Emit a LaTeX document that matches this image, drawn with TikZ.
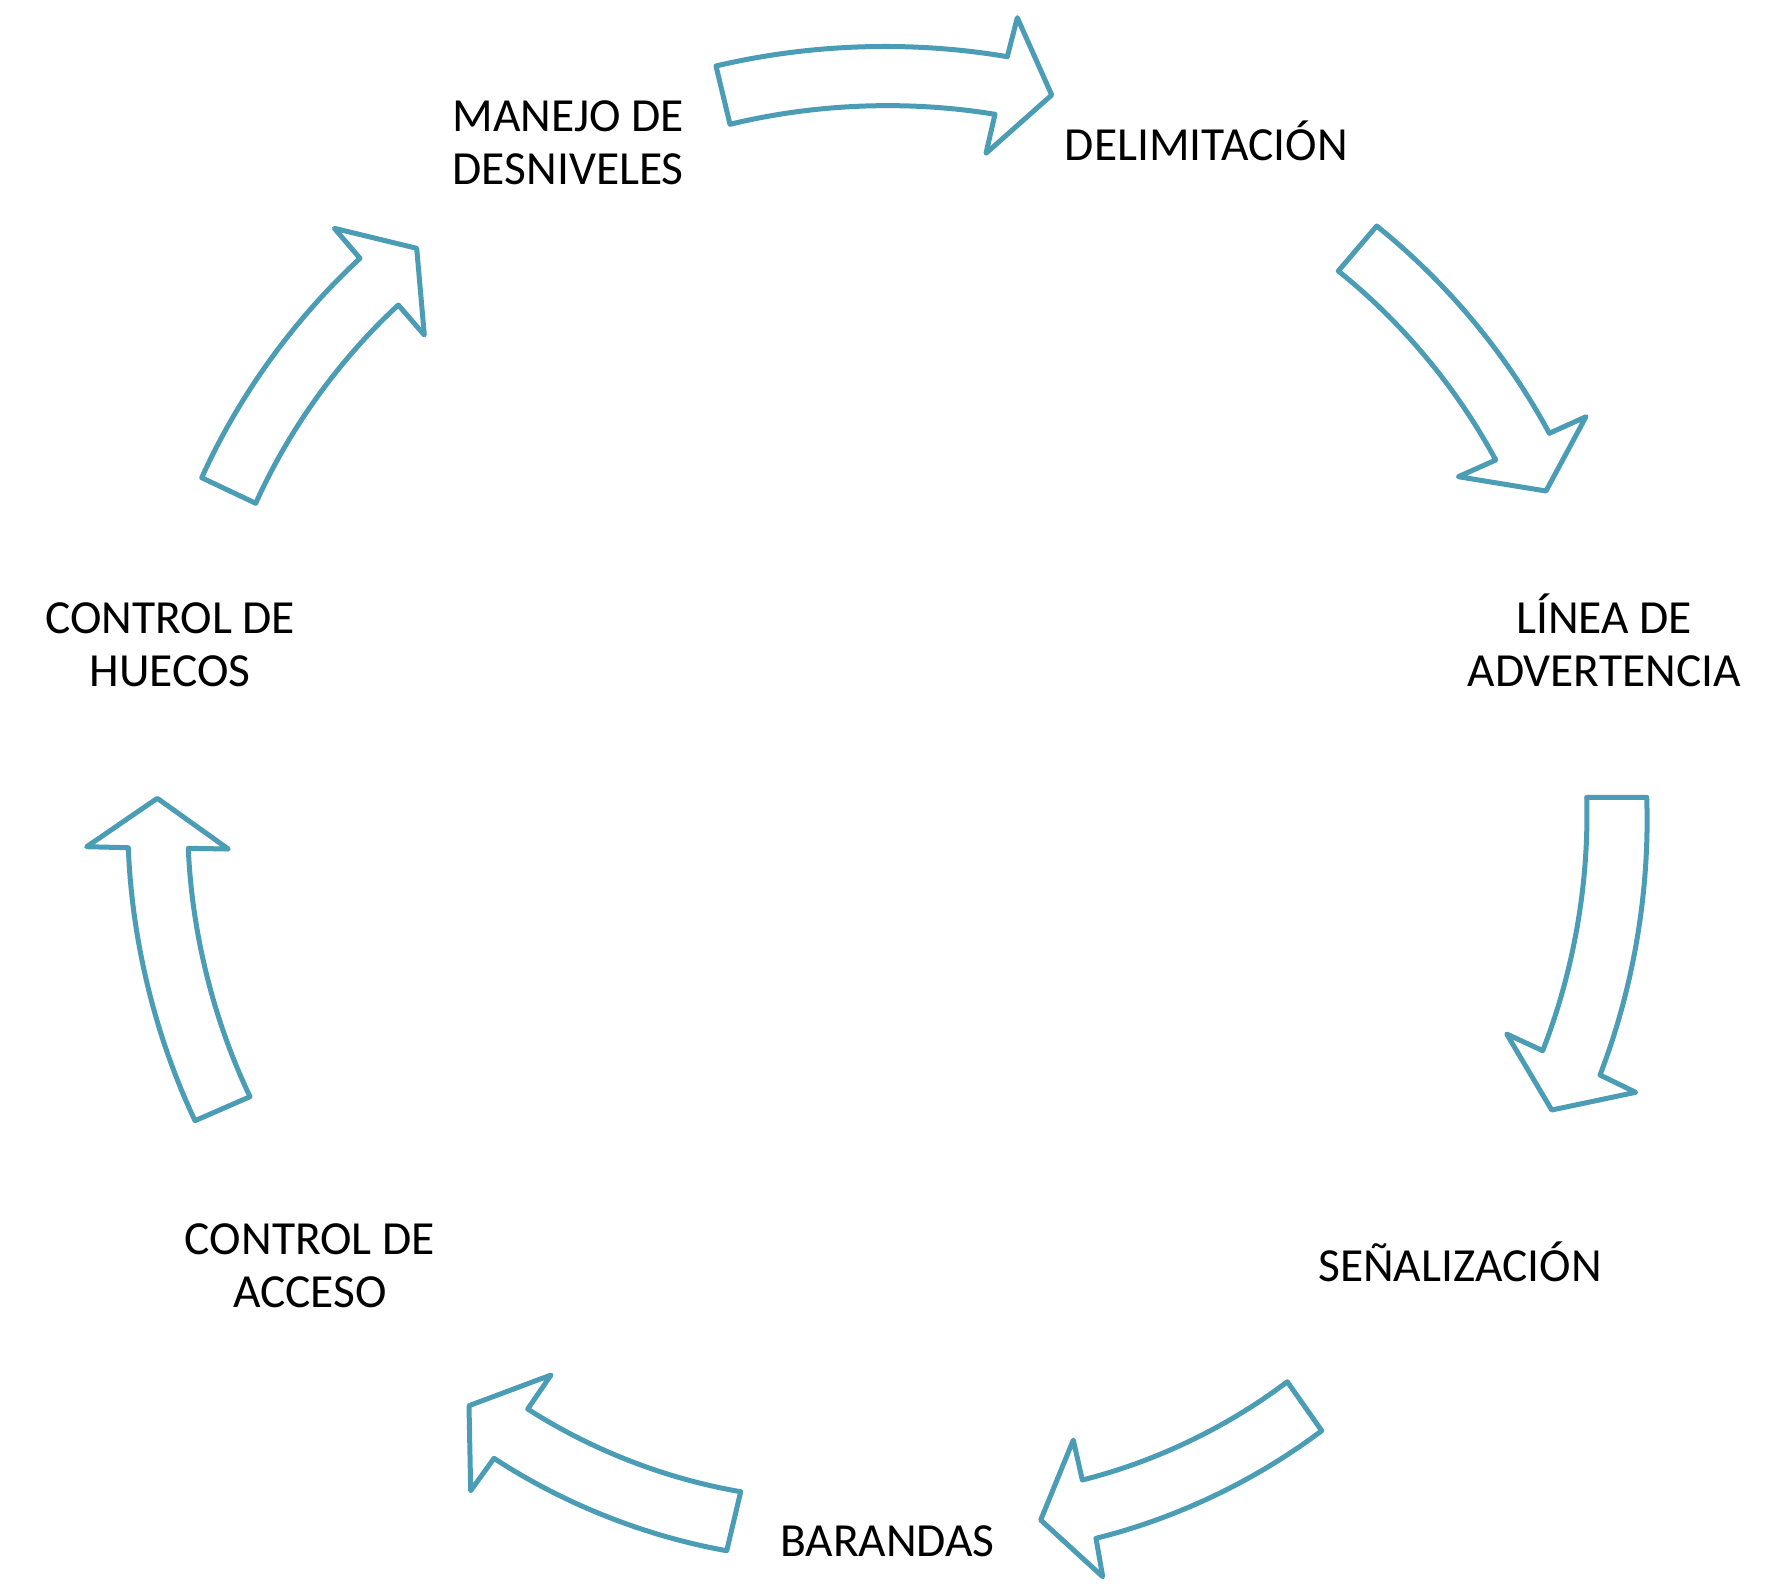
\documentclass[tikz,border=0pt]{standalone}
\usepackage{fontspec}
\setmainfont{Carlito}
\definecolor{arrowblue}{RGB}{74,157,181}
\tikzset{
  blockarrow/.style={draw=arrowblue, line width=5pt, line join=round, fill=white},
  lbl/.style={font=\fontsize{47.5}{53}\selectfont, align=center, inner sep=0pt, text=black},
}
\newcommand{\cyclearrow}[7]{%
  \draw[blockarrow] (#1) to[bend left=11.5, looseness=0.85] (#2) -- (#3) -- (#4) -- (#5) -- (#6)
    to[bend right=11.5, looseness=0.85] (#7) -- cycle;}
\begin{document}
\begin{tikzpicture}[x=1pt, y=-1pt]
\fill[white] (0,0) rectangle (1767,1588);
\useasboundingbox (0,0) rectangle (1767,1588);

% labels (base anchor = baseline of the last line)
\node[lbl, anchor=base] (manejo) at (568.3,184.7) {MANEJO DE\\DESNIVELES};
\node[lbl, anchor=base] (delim) at (1206.3,160) {DELIMITACIÓN};
\node[lbl, anchor=base] (linea) at (1604.2,686) {LÍNEA DE\\ADVERTENCIA};
\node[lbl, anchor=base] (senal) at (1460,1281.5) {SEÑALIZACIÓN};
\node[lbl, anchor=base] (barandas) at (887.4,1556) {BARANDAS};
\node[lbl, anchor=base] (acceso) at (310,1307) {CONTROL DE\\ACCESO};
\node[lbl, anchor=base] (huecos) at (170.2,686) {CONTROL DE\\HUECOS};

% curved block arrows (clockwise)
\cyclearrow{716,66}{1007.3,56.7}{1017.3,17.7}{1051.7,95}{986,153.3}{995,114.3}{730,124.3}
\cyclearrow{1376.7,226}{1549.3,433.3}{1586,416.7}{1546,491}{1458.3,476.7}{1495.7,460}{1338.3,271}
\cyclearrow{1646.7,797.3}{1600,1075}{1635.7,1092.3}{1551.7,1110}{1506.7,1034}{1542.7,1050.7}{1586.7,797.3}
\cyclearrow{1321.7,1430.7}{1096,1538.3}{1102.7,1576.7}{1040.7,1520}{1073.3,1440}{1082.3,1480}{1287.3,1381.7}
\cyclearrow{726.7,1550.7}{494,1458.3}{470.7,1490.7}{469,1405.7}{551,1375}{527.7,1409}{740.7,1491.7}
\cyclearrow{195,1120.7}{128.3,847.7}{86.7,846.7}{157.3,798.3}{228.3,849}{188.3,848.3}{250,1096.7}
\cyclearrow{201.7,477.7}{360,258.3}{334.3,228.3}{416.7,248.3}{424.3,335}{398.3,305}{255.7,503.3}
\end{tikzpicture}
\end{document}
